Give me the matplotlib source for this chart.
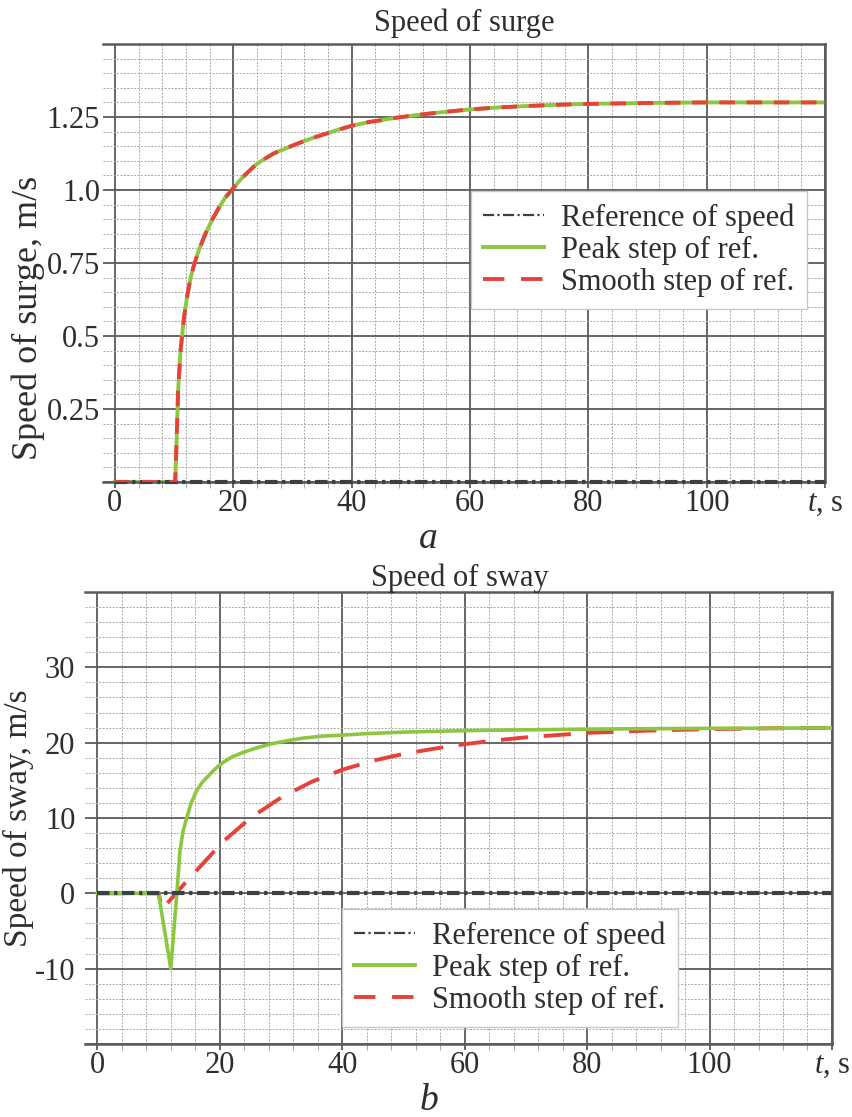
import matplotlib

matplotlib.use("Agg")
import matplotlib.pyplot as plt
from matplotlib.lines import Line2D
from matplotlib.ticker import FixedLocator, MultipleLocator

plt.rcParams["font.family"] = ["Liberation Serif", "DejaVu Serif"]
plt.rcParams["mathtext.fontset"] = "custom"
plt.rcParams["mathtext.rm"] = "Liberation Serif"
plt.rcParams["mathtext.it"] = "Liberation Serif:italic"
plt.rcParams["axes.unicode_minus"] = False

# --- data ---
ref_t = [0, 120]
ref_v = [0, 0]

surge_t = [0, 10, 10.2, 10.4, 10.7, 11.1, 11.7, 12.25, 12.8, 13.4, 14.3, 15.35,
           16.5, 17.6, 18.7, 20, 21, 22, 23.8, 25, 27, 28.9, 30, 32.3, 34, 36,
           37.4, 40, 43, 45, 47, 50, 52, 55, 57, 60, 65, 70, 75, 80, 90, 100,
           110, 120]
surge_v = [0, 0, 0.0, 0.12, 0.315, 0.45, 0.566, 0.640, 0.700, 0.745, 0.800, 0.852,
           0.900, 0.940, 0.975, 1.006, 1.030, 1.052, 1.086, 1.103, 1.127, 1.142,
           1.152, 1.170, 1.182, 1.195, 1.204, 1.220, 1.233, 1.239, 1.246, 1.254,
           1.259, 1.266, 1.270, 1.276, 1.283, 1.288, 1.292, 1.295, 1.298, 1.300,
           1.300, 1.300]

sway_peak_t = [0, 10, 12, 13, 13.5, 14, 14.6, 15.3, 16.2, 17.2, 18.4, 19.5, 20.6,
               22, 23.8, 26, 28.2, 31, 33.6, 36.5, 40, 44, 50, 60, 70, 80, 100, 120]
sway_peak_v = [0, 0, -10, 0, 5.6, 8.2, 10.0, 11.9, 13.6, 14.8, 15.8, 16.7, 17.4,
               18.1, 18.7, 19.3, 19.8, 20.25, 20.6, 20.85, 21.0, 21.2, 21.4, 21.6,
               21.7, 21.8, 21.9, 21.95]

sway_smooth_t = [0, 10, 10.6, 14.6, 20.6, 25, 30, 35, 40, 45, 50, 55, 60, 65, 70,
                 75, 80, 90, 100, 110, 120]
sway_smooth_v = [0, 0, -2.1, 1.6, 6.9, 10.0, 12.7, 14.8, 16.4, 17.6, 18.5, 19.2,
                 19.8, 20.3, 20.7, 21.0, 21.3, 21.6, 21.8, 21.9, 21.95]

LABELS = ["Reference of speed", "Peak step of ref.", "Smooth step of ref."]
C_REF = "#3c3f44"
C_PEAK = "#8dc63f"
C_SMOOTH = "#e8403a"
C_MAJOR = "#5a5a5a"
C_MINOR = "#a8a8a8"
TXT = "#2e2e2e"
FS = 22
REF_DASH = (0, (3, 1.1, 0.8, 1.1))


def style_axes(ax, ylim, ymajor, yminor, ylabels, ypad):
    ax.set_xlim(-2, 120)
    ax.set_ylim(*ylim)
    ax.xaxis.set_major_locator(FixedLocator([0, 20, 40, 60, 80, 100, 120]))
    ax.xaxis.set_minor_locator(MultipleLocator(4))
    ax.yaxis.set_major_locator(FixedLocator(ymajor))
    ax.yaxis.set_minor_locator(MultipleLocator(yminor))
    ax.set_xticklabels(["0", "20", "40", "60", "80", "100", "$t$, s"])
    ax.set_yticklabels(ylabels)
    ax.grid(which="major", color=C_MAJOR, lw=1.3, zorder=0)
    ax.grid(which="minor", color=C_MINOR, lw=0.7, ls=(0, (2, 1.5)), zorder=0)
    ax.set_axisbelow(True)
    ax.spines["left"].set_visible(False)
    for side in ("top", "right", "bottom"):
        ax.spines[side].set_color(C_MAJOR)
        ax.spines[side].set_linewidth(1.8)
    ax.tick_params(axis="x", which="major", length=4, width=1.3, color=C_MAJOR,
                   pad=1, labelsize=FS, labelcolor=TXT)
    ax.tick_params(axis="x", which="minor", length=4, width=0.7, color=C_MINOR)
    ax.tick_params(axis="y", which="both", length=0, pad=ypad, labelsize=FS,
                   labelcolor=TXT)


def add_legend(fig, anchor):
    handles = [
        Line2D([], [], color=C_REF, lw=1.6, ls=(0, (5, 1.5, 1, 1.5))),
        Line2D([], [], color=C_PEAK, lw=2.8),
        Line2D([], [], color=C_SMOOTH, lw=2.8, ls=(0, (5.5, 4.3))),
    ]
    leg = fig.legend(handles, LABELS, loc="upper left", bbox_to_anchor=anchor,
                     bbox_transform=fig.transFigure, fontsize=FS, frameon=True,
                     fancybox=False, framealpha=1, edgecolor="#c8c8c8",
                     handlelength=2.0, handletextpad=0.55, labelspacing=0.1,
                     borderpad=0.4, borderaxespad=0)
    leg.get_frame().set_linewidth(1.0)
    for t in leg.get_texts():
        t.set_color(TXT)
    return leg


fig = plt.figure(figsize=(8.52, 11.17), dpi=100)

# --- a: speed of surge ---
ax1 = fig.add_axes([0.1209, 0.5685, 0.8474, 0.3921])
ax1.plot(surge_t, surge_v, color=C_PEAK, lw=2.8, zorder=2)
ax1.plot(ref_t, ref_v, color=C_REF, lw=3.0, ls=REF_DASH, zorder=3, clip_on=False)
ax1.plot(surge_t, surge_v, color=C_SMOOTH, lw=2.8, ls=(0, (4, 3)), zorder=4)
style_axes(ax1, (0, 1.5), [0, 0.25, 0.5, 0.75, 1.0, 1.25, 1.5], 0.05,
           ["", "0.25", "0.5", "0.75", "1.0", "1.25", ""], 2)
add_legend(fig, (0.5528, 0.8290))
fig.text(0.5446, 0.9722, "Speed of surge", ha="center", va="baseline",
         fontsize=FS, color=TXT)
fig.text(0.0329, 0.7153, "Speed of surge, m/s", ha="center", va="center",
         rotation=90, fontsize=26, color=TXT)
fig.text(0.5023, 0.5094, "a", ha="center", va="baseline", fontsize=27,
         style="italic", color=TXT)

# --- b: speed of sway ---
ax2 = fig.add_axes([0.0998, 0.0654, 0.8767, 0.4046])
ax2.plot(sway_smooth_t, sway_smooth_v, color=C_SMOOTH, lw=2.8, ls=(0, (7, 4)),
         zorder=2)
ax2.plot(sway_peak_t, sway_peak_v, color=C_PEAK, lw=2.6, zorder=3)
ax2.plot(ref_t, ref_v, color=C_REF, lw=3.0, ls=REF_DASH, zorder=4)
style_axes(ax2, (-20, 40), [-20, -10, 0, 10, 20, 30, 40], 2,
           ["", "-10", "0", "10", "20", "30", ""], 7)
add_legend(fig, (0.4014, 0.1862))
fig.text(0.540, 0.4754, "Speed of sway", ha="center", va="baseline",
         fontsize=FS, color=TXT)
fig.text(0.0211, 0.2677, "Speed of sway, m/s", ha="center", va="center",
         rotation=90, fontsize=24, color=TXT)
fig.text(0.5035, 0.0065, "b", ha="center", va="baseline", fontsize=27,
         style="italic", color=TXT)

fig.savefig("out.png", dpi=100)
plt.close(fig)
